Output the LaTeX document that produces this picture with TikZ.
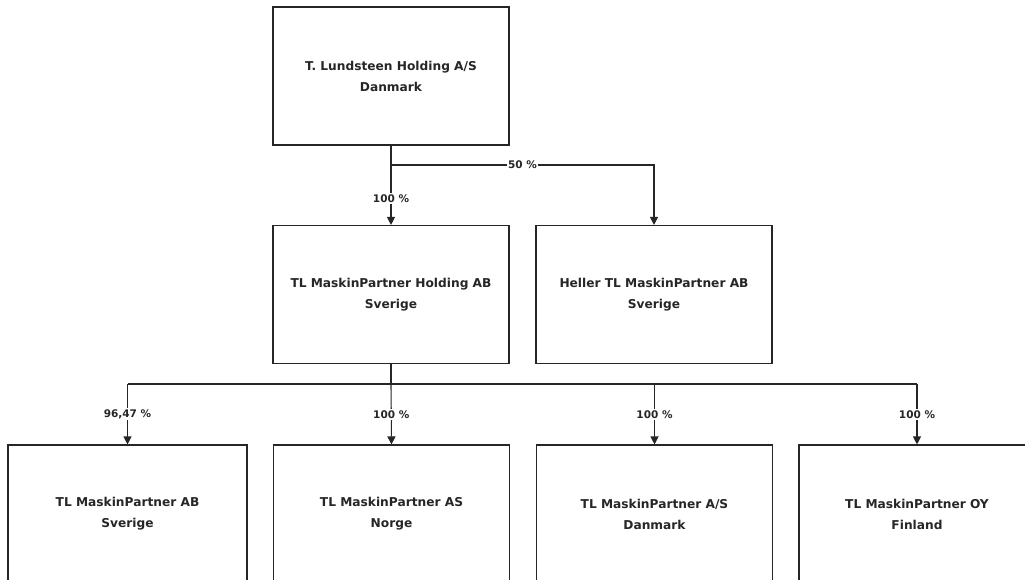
\documentclass[tikz,border=0pt]{standalone}
\usepackage{fontspec}
\setmainfont{DejaVu Sans}
\usetikzlibrary{arrows.meta}
\begin{document}
\begin{tikzpicture}[x=1pt,y=-1pt,
  box/.style={draw=black!85, line width=1.1pt, minimum width=236pt, minimum height=138pt,
    align=center, inner sep=0pt, font=\bfseries\fontsize{12.2}{21}\selectfont, text=black!85},
  conn/.style={draw=black!85, line width=1.1pt},
  arr/.style={conn, -{Triangle[length=8pt,width=8pt]}},
  lbl/.style={fill=white, inner sep=1.5pt, font=\bfseries\fontsize{10.5}{11}\selectfont, text=black!85}]
\useasboundingbox (0,0) rectangle (1025,580);
\node[box] (top) at (391,76) {T. Lundsteen Holding A/S\\Danmark};
\node[box] (mid) at (391,294.5) {TL MaskinPartner Holding AB\\Sverige};
\node[box] (hel) at (654,294.5) {Heller TL MaskinPartner AB\\Sverige};
\node[box, minimum width=239pt] (b1) at (127.5,514) {TL MaskinPartner AB\\Sverige};
\node[box] (b2) at (391.5,514) {TL MaskinPartner AS\\Norge};
\node[box] (b3) at (654.5,514) {TL MaskinPartner A/S\\Danmark};
\node[box] (b4) at (917,514) {TL MaskinPartner OY\\Finland};
\coordinate (br) at (391,165);
\coordinate (hb) at (391,384);
\draw[arr] (top.south) -- node[lbl, pos=0.67] {100 \%} (mid.north);
\draw[arr] (br) -- node[lbl] {50 \%} (br -| hel.north) -- (hel.north);
\draw[conn] (mid.south) -- (hb);
\draw[conn] (hb -| b1.north) -- (hb -| b4.north);
\draw[arr] (hb -| b1.north) -- node[lbl, midway] {96,47 \%} (b1.north);
\draw[arr] (hb) -- node[lbl, midway] {100 \%} (b2.north);
\draw[arr] (hb -| b3.north) -- node[lbl, midway] {100 \%} (b3.north);
\draw[arr] (hb -| b4.north) -- node[lbl, midway] {100 \%} (b4.north);
\end{tikzpicture}
\end{document}
